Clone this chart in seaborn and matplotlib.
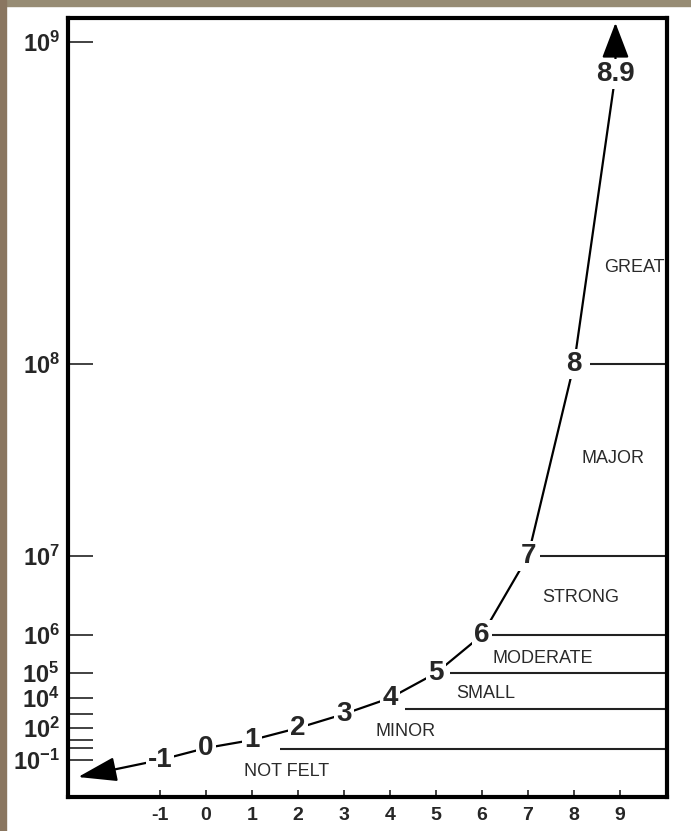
import numpy as np
import matplotlib
matplotlib.use("Agg")
import matplotlib.pyplot as plt
from matplotlib.patches import Rectangle
from matplotlib.ticker import NullLocator
import seaborn as sns

# Richter magnitude vs. energy exponent (10^n)
magnitudes = [-1, 0, 1, 2, 3, 4, 5, 6, 7, 8, 8.9]
energy_exp = [-1, 0, 1, 2, 3, 4, 5, 6, 7, 8, 8.9]
mag_labels = ['-1', '0', '1', '2', '3', '4', '5', '6', '7', '8', '8.9']

# class boundaries: exponent level and magnitude where each line starts
band_levels = [8, 7, 6, 5, 3.3, -0.1]
band_starts = [8.35, 7.26, 6.22, 5.3, 4.33, 1.6]
band_names = ['GREAT', 'MAJOR', 'STRONG', 'MODERATE', 'SMALL', 'MINOR', 'NOT FELT']

ytick_exp = [9, 8, 7, 6, 5, 4, 3, 2, 1, 0, -1]
ytick_text = ['9', '8', '7', '6', '5', '4', '', '2', '', '', '-1']
xticks = [-1, 0, 1, 2, 3, 4, 5, 6, 7, 8, 9]

# layout of the class names (magnitude, exponent)
band_label_x = [9.30, 8.85, 8.15, 7.33, 6.09, 4.33, 1.76]
band_label_y = [8.30, 7.51, 6.47, 5.37, 4.20, 1.75, -1.32]

# the vertical axis is hand drawn: exponent -> height on the page
scale_exp = [-3, -2, -1, 0, 1, 2, 3, 4, 5, 6, 7, 8, 9, 10]
scale_pos = [0, 37, 74, 86, 94, 106, 120, 136, 161, 199, 278, 470, 792, 1114]


def fwd(y):
    return np.interp(y, scale_exp, scale_pos)


def inv(p):
    return np.interp(p, scale_pos, scale_exp)


sns.set_style('white')
plt.rcParams['font.family'] = ['Liberation Sans', 'DejaVu Sans']
plt.rcParams['mathtext.fontset'] = 'custom'
plt.rcParams['mathtext.bf'] = 'Liberation Sans:bold'
plt.rcParams['mathtext.rm'] = 'Liberation Sans'

fig = plt.figure(figsize=(6.91, 8.31), dpi=100)
fig.patch.set_facecolor('white')
# bit of the stone backdrop showing at the top and left edge
fig.patches.append(Rectangle((0, 1 - 6 / 831), 1, 6 / 831, transform=fig.transFigure,
                             color='#978c74', zorder=0))
fig.patches.append(Rectangle((0, 0), 6 / 691, 1, transform=fig.transFigure,
                             color='#8a7660', zorder=0))

ax = fig.add_axes([68 / 691, 1 - 797 / 831, 599 / 691, 779 / 831])
ax.set_yscale('function', functions=(fwd, inv))
ax.set_xlim(-3, 10.02)
ax.set_ylim(-2, 9.075)

# the curve
sns.lineplot(x=magnitudes, y=energy_exp, ax=ax, color='black', lw=1.6,
             sort=False, estimator=None, zorder=2)
for x, y, t in zip(magnitudes, energy_exp, mag_labels):
    ax.text(x, y, t, ha='center', va='center', fontsize=20, fontweight='bold',
            zorder=4, bbox=dict(facecolor='white', edgecolor='none', pad=1.5))

# arrows at both ends
ax.annotate('', xy=(-2.78, -1.46), xytext=(magnitudes[0], energy_exp[0]),
            arrowprops=dict(arrowstyle='-|>,head_length=1.2,head_width=0.38',
                            mutation_scale=20, color='black', lw=1.6,
                            shrinkA=0, shrinkB=0), zorder=1)
ax.annotate('', xy=(magnitudes[-1], 9.06), xytext=(magnitudes[-1], energy_exp[-1]),
            arrowprops=dict(arrowstyle='-|>,head_length=1.1,head_width=0.42',
                            mutation_scale=20, color='black', lw=1.6,
                            shrinkA=0, shrinkB=0), zorder=1)

# class boundaries
ax.hlines(band_levels, band_starts, 10.02, color='#222222', lw=1.5, zorder=1)
for x, y, t in zip(band_label_x, band_label_y, band_names):
    ax.text(x, y, t, ha='center', va='center', fontsize=13, color='#2a2a2a')

ax.set_yticks(ytick_exp)
ax.set_yticklabels([r'$\mathbf{10^{%s}}$' % t if t else '' for t in ytick_text])
ax.yaxis.set_minor_locator(NullLocator())
ax.tick_params(axis='y', direction='in', length=18, width=1.3, color='#333333',
               labelsize=17, pad=6, left=True)
ax.set_xticks(xticks)
ax.set_xticklabels([str(v) for v in xticks], fontweight='bold')
ax.xaxis.set_minor_locator(NullLocator())
ax.tick_params(axis='x', direction='in', length=5, width=1.3, color='#333333',
               labelsize=14, pad=7, bottom=True)

for s in ax.spines.values():
    s.set_visible(True)
    s.set_color('black')
    s.set_linewidth(3)

fig.savefig('out.png', dpi=100, facecolor=fig.get_facecolor())
